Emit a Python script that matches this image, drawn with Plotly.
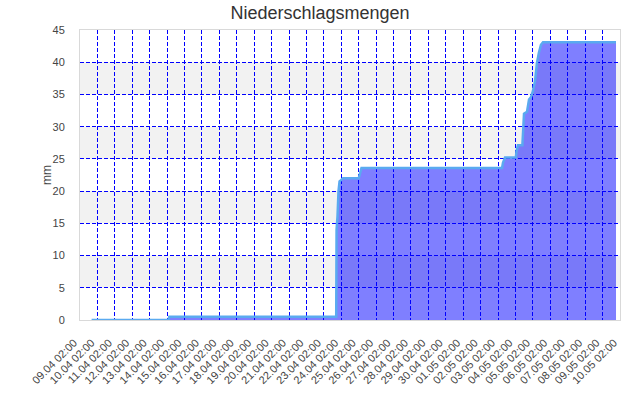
import plotly.graph_objects as go

# Cumulative precipitation (mm)
times = [
    "2024-04-09 18:00", "2024-04-14 04:00", "2024-04-14 05:00", "2024-04-23 19:00",
    "2024-04-23 19:30", "2024-04-23 20:45", "2024-04-23 22:10", "2024-04-23 23:35",
    "2024-04-24 01:35", "2024-04-24 04:20", "2024-04-25 02:00", "2024-04-25 03:40",
    "2024-04-25 05:50", "2024-05-03 07:30", "2024-05-03 08:45", "2024-05-03 11:35",
    "2024-05-04 02:30", "2024-05-04 03:25", "2024-05-04 05:25", "2024-05-04 11:30",
    "2024-05-04 12:20", "2024-05-04 13:45", "2024-05-04 17:50", "2024-05-04 20:40",
    "2024-05-04 23:25", "2024-05-05 02:00", "2024-05-05 04:50", "2024-05-05 07:35",
    "2024-05-05 10:20", "2024-05-05 13:05", "2024-05-05 15:55", "2024-05-09 20:30",
]
values = [
    0.0, 0.0, 0.5, 0.5,
    14.0, 16.0, 20.0, 21.5,
    21.7, 22.0, 22.0, 22.6,
    23.6, 23.6, 24.4, 25.2,
    25.2, 26.2, 27.1, 27.1,
    29.0, 32.0, 32.3, 34.2,
    34.6, 35.5, 37.0, 39.9,
    41.5, 42.7, 43.1, 43.1,
]

x_range = ["2024-04-09 02:00", "2024-05-10 02:00"]
y_ticks = [0, 5, 10, 15, 20, 25, 30, 35, 40, 45]
band_starts = [5, 15, 25, 35]
band_height = 5

fig = go.Figure()
fig.add_trace(go.Scatter(
    x=times, y=values, mode="lines",
    line=dict(color="#5aaaf0", width=2.5),
    fill="tozeroy", fillcolor="rgba(0,0,255,0.5)",
    hoverinfo="x+y", showlegend=False,
))

for b in band_starts:
    fig.add_shape(type="rect", xref="paper", x0=0, x1=1, yref="y",
                  y0=b, y1=b + band_height, fillcolor="#f2f2f2",
                  line=dict(width=0), layer="below")

fig.add_annotation(text="mm", textangle=-90, xref="paper", yref="paper",
                   x=-33 / 540, y=0.5, xanchor="center", yanchor="middle",
                   showarrow=False, font=dict(size=12, color="#444"))

fig.update_layout(
    width=640, height=400,
    margin=dict(l=80, r=20, t=30, b=80, autoexpand=False),
    paper_bgcolor="white", plot_bgcolor="white",
    font=dict(family="Liberation Sans, Arial, sans-serif", size=11, color="#444"),
    title=dict(text="Niederschlagsmengen", x=0.5, xanchor="center",
               y=1 - 13 / 400, yanchor="middle",
               font=dict(size=18, color="#333")),
    xaxis=dict(
        type="date", range=x_range, automargin=False,
        tick0=x_range[0], dtick=86400000, tickformat="%d.%m %H:%M",
        tickangle=-45, ticks="", ticklabelstandoff=11, ticklabelshift=-6,
        showgrid=True, gridcolor="blue", gridwidth=1, griddash="4px,2px",
        showline=True, linecolor="#d9d9d9", linewidth=1, mirror=True,
        zeroline=False, fixedrange=True,
    ),
    yaxis=dict(
        range=[0, 45], tickvals=y_ticks, ticks="", ticklabelstandoff=12,
        automargin=False,
        showgrid=True, gridcolor="blue", gridwidth=1, griddash="4px,2px",
        showline=True, linecolor="#d9d9d9", linewidth=1, mirror=True,
        zeroline=False, fixedrange=True,
    ),
)

fig.write_html("out.html", post_script="document.body.style.margin='0';",
               config={"displayModeBar": False})
